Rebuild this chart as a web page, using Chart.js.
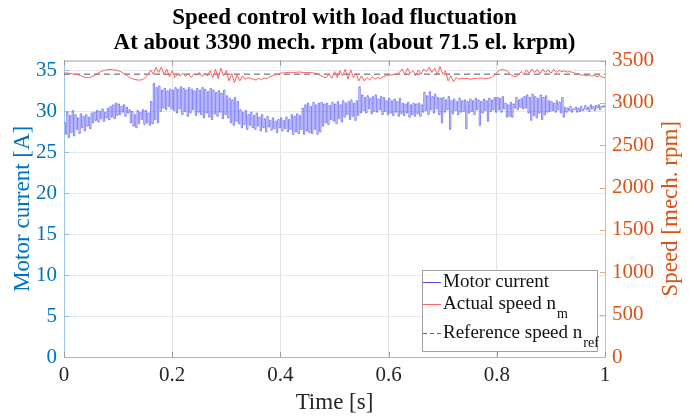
<!DOCTYPE html>
<html>
<head>
<meta charset="utf-8">
<title>Speed control with load fluctuation</title>
<script src="https://cdn.jsdelivr.net/npm/chart.js@4"></script>
<style>
  body { margin: 0; background: #fff; }
  #wrap { width: 689px; height: 418px; }
</style>
</head>
<body>
<div id="wrap"><canvas id="speed-graph" width="689" height="418"></canvas></div>
<script>
// current logged every 2.5 ms, speed every 5 ms, 0 to 1 s
var currentStep = 0.0025;
var speedStep = 0.005;

// motor current [A]
var current = [
  28.6, 27.2, 29.9, 26.8, 29.5, 27.4, 30.1, 27.0, 29.6, 27.8, 29.2, 27.3, 29.7, 28.0, 29.4, 27.6, 29.6, 28.2, 29.3, 27.9,
  29.8, 28.6, 29.9, 28.9, 30.1, 28.7, 30.0, 29.1, 30.3, 28.8, 29.9, 29.2, 30.4, 29.0, 30.6, 29.3, 30.8, 29.1, 31.0, 29.5,
  30.9, 29.6, 30.6, 29.9, 30.8, 29.4, 30.5, 29.8, 30.2, 28.6, 30.0, 28.2, 29.6, 28.0, 30.1, 28.5, 29.9, 29.0, 30.2, 28.4,
  30.1, 28.6, 29.8, 28.3, 31.2, 28.5, 33.4, 29.0, 32.9, 28.6, 33.1, 30.0, 32.6, 30.4, 32.8, 30.2, 32.5, 30.6, 32.7, 30.3,
  32.6, 30.1, 32.9, 29.8, 32.7, 30.3, 33.0, 29.6, 32.8, 30.0, 32.6, 29.4, 32.9, 29.8, 32.7, 30.2, 32.5, 29.5, 32.8, 29.9,
  32.6, 29.6, 32.9, 29.2, 32.7, 29.8, 32.4, 29.3, 32.8, 29.0, 32.6, 29.7, 32.3, 29.4, 32.5, 29.9, 32.2, 29.1, 32.6, 29.6,
  31.9, 29.2, 31.6, 28.6, 31.4, 28.3, 31.7, 28.8, 31.2, 28.5, 30.2, 28.0, 29.9, 28.4, 30.1, 27.8, 29.6, 28.3, 29.9, 28.0,
  29.5, 27.8, 29.8, 28.2, 29.3, 27.6, 29.6, 28.0, 29.1, 27.5, 29.4, 28.1, 28.9, 27.7, 29.2, 27.9, 28.8, 27.4, 29.0, 28.0,
  29.2, 27.6, 28.9, 27.9, 29.3, 27.5, 29.0, 27.8, 29.6, 27.2, 29.4, 27.5, 29.7, 27.3, 29.5, 27.8, 30.4, 27.2, 30.8, 27.6,
  31.0, 27.4, 30.6, 27.3, 31.1, 27.8, 30.8, 27.2, 31.0, 27.5, 31.1, 28.2, 30.9, 28.6, 31.0, 28.4, 30.7, 29.0, 31.1, 28.8,
  30.9, 28.5, 31.2, 29.1, 30.8, 28.7, 31.3, 29.3, 31.0, 29.6, 31.2, 29.0, 31.4, 29.4, 31.0, 28.9, 31.3, 29.5, 33.0, 29.8,
  32.0, 30.1, 31.7, 29.8, 31.9, 30.3, 31.6, 29.7, 31.8, 30.0, 32.0, 29.9, 31.5, 30.2, 31.8, 29.6, 31.7, 30.0, 31.3, 29.6,
  31.6, 29.8, 31.3, 29.5, 31.5, 29.9, 31.2, 29.4, 31.6, 29.7, 31.0, 29.5, 30.9, 29.8, 31.1, 29.3, 30.8, 29.6, 31.0, 29.4,
  30.9, 29.7, 31.0, 29.4, 30.8, 29.9, 32.3, 30.1, 31.9, 29.6, 32.4, 30.2, 31.8, 29.8, 32.1, 30.3, 31.7, 29.6, 31.6, 28.6,
  31.7, 29.9, 31.4, 30.2, 31.8, 27.8, 31.3, 29.7, 31.5, 30.1, 31.2, 29.6, 31.6, 29.9, 31.3, 30.0, 31.4, 27.9, 31.2, 29.8,
  31.5, 30.0, 31.3, 29.6, 31.6, 30.2, 31.4, 28.3, 31.2, 29.8, 31.5, 30.1, 31.3, 28.8, 31.6, 30.0, 31.4, 30.2, 31.7, 29.9,
  31.7, 30.2, 31.6, 29.9, 31.8, 30.3, 31.0, 29.3, 30.8, 29.4, 31.1, 29.3, 30.9, 30.4, 31.7, 30.2, 31.4, 30.5, 31.6, 30.3,
  31.8, 30.4, 32.0, 29.8, 31.7, 28.9, 32.1, 29.5, 31.8, 29.2, 31.6, 29.8, 32.0, 29.0, 31.7, 29.6, 31.9, 29.9, 31.3, 30.0,
  31.2, 30.1, 31.0, 29.9, 31.3, 30.2, 31.1, 29.8, 31.7, 29.3, 30.5, 29.9, 30.4, 30.1, 30.6, 29.9, 30.3, 30.2, 30.5, 29.9,
  30.4, 30.0, 30.6, 30.1, 30.3, 30.7, 30.2, 30.5, 30.0, 30.8, 30.3, 30.6, 30.1, 30.7, 30.4, 30.8, 30.2, 30.6, 30.5, 30.7,
  30.4
];

// actual speed n_m [mech. rpm]
var speed = [
  3350, 3355, 3350, 3345, 3340, 3335, 3325, 3310, 3300, 3298,
  3305, 3320, 3340, 3360, 3375, 3385, 3392, 3395, 3392, 3388,
  3380, 3370, 3350, 3330, 3305, 3290, 3278, 3272, 3270, 3275,
  3300, 3330, 3390, 3340, 3420, 3360, 3425, 3330, 3400, 3310,
  3380, 3300, 3340, 3320, 3350, 3310, 3345, 3300, 3340, 3330,
  3360, 3310, 3350, 3320, 3380, 3300, 3400, 3290, 3410, 3320,
  3380, 3260, 3350, 3240, 3330, 3260, 3320, 3280, 3300, 3290,
  3280, 3270, 3290, 3275, 3295, 3285, 3310, 3320, 3335, 3340,
  3350, 3355, 3358, 3360, 3362, 3360, 3362, 3365, 3362, 3360,
  3360, 3358, 3355, 3350, 3340, 3320, 3305, 3300, 3340, 3290,
  3370, 3300, 3380, 3320, 3400, 3280, 3390, 3300, 3350, 3260,
  3320, 3260, 3300, 3270, 3310, 3280, 3300, 3290, 3310, 3320,
  3330, 3330, 3335, 3340, 3360, 3400, 3330, 3410, 3350, 3380,
  3320, 3390, 3340, 3400, 3370, 3420, 3360, 3410, 3330, 3430,
  3340, 3380, 3260, 3320, 3250, 3300, 3280, 3290, 3285, 3290,
  3280, 3285, 3290, 3290, 3295, 3290, 3285, 3290, 3300, 3320,
  3360, 3385, 3395, 3390, 3370, 3340, 3315, 3310, 3330, 3370,
  3340, 3390, 3350, 3400, 3360, 3395, 3350, 3400, 3360, 3390,
  3350, 3395, 3360, 3385, 3370, 3380, 3365, 3370, 3360, 3350,
  3345, 3330, 3330, 3320, 3330, 3315, 3325, 3310, 3320, 3305,
  3300
];

// reference speed n_ref [mech. rpm]
var refSpeed = 3340;

var timeTicks = [0, 0.2, 0.4, 0.6, 0.8, 1];
var legendItems = [
  ['Motor current', ''],
  ['Actual speed n', 'm'],
  ['Reference speed n', 'ref']
];
var rightTitle = 'Speed [mech. rpm]';

var blue = 'rgb(80,80,242)';
var red = 'rgb(255,95,95)';
var leftColor = '#0072BD';
var rightColor = '#D95319';
var serif = "'Liberation Serif', 'Times New Roman', serif";

var currentPts = current.map(function (v, i) { return { x: i * currentStep, y: v }; });
var speedPts = speed.map(function (v, i) { return { x: i * speedStep, y: v }; });
var refPts = [{ x: 0, y: refSpeed }, { x: 1, y: refSpeed }];

// box frame, inward tick marks, right axis title and the legend with subscripts
var framePlugin = {
  id: 'frameAndLegend',
  afterDraw: function (chart) {
    var ctx = chart.ctx;
    var a = chart.chartArea;
    var sx = chart.scales.x, sl = chart.scales.yLeft, sr = chart.scales.yRight;
    ctx.save();
    ctx.lineWidth = 1;

    ctx.strokeStyle = '#a0a0a0';
    ctx.beginPath();
    ctx.moveTo(a.left, a.top + 0.5);
    ctx.lineTo(a.right, a.top + 0.5);
    ctx.stroke();

    ctx.strokeStyle = '#9a9a9a';
    ctx.beginPath();
    timeTicks.forEach(function (t) {
      var px = Math.round(sx.getPixelForValue(t)) + 0.5;
      ctx.moveTo(px, a.bottom);
      ctx.lineTo(px, a.bottom - 5);
      ctx.moveTo(px, a.top);
      ctx.lineTo(px, a.top + 5);
    });
    ctx.stroke();

    ctx.strokeStyle = '#8dbbe0';
    ctx.beginPath();
    sl.ticks.forEach(function (t) {
      var py = Math.round(sl.getPixelForValue(t.value)) + 0.5;
      ctx.moveTo(a.left, py);
      ctx.lineTo(a.left + 5, py);
    });
    ctx.stroke();

    ctx.strokeStyle = '#eda584';
    ctx.beginPath();
    sr.ticks.forEach(function (t) {
      var py = Math.round(sr.getPixelForValue(t.value)) + 0.5;
      ctx.moveTo(a.right, py);
      ctx.lineTo(a.right - 5, py);
    });
    ctx.stroke();

    // right axis title, reading bottom to top
    ctx.save();
    ctx.translate(671, (a.top + a.bottom) / 2);
    ctx.rotate(-Math.PI / 2);
    ctx.fillStyle = rightColor;
    ctx.font = '23px ' + serif;
    ctx.textAlign = 'center';
    ctx.textBaseline = 'middle';
    ctx.fillText(rightTitle, 0, 0);
    ctx.restore();

    // legend
    var bw = 175, bh = 81;
    var bx = a.right - 8 - bw, by = a.bottom - 6 - bh;
    ctx.fillStyle = '#fff';
    ctx.fillRect(bx, by, bw, bh);
    ctx.strokeStyle = '#a0a0a0';
    ctx.strokeRect(bx + 0.5, by + 0.5, bw, bh);

    var rows = [12, 34, 63];
    var styles = [[blue, []], [red, []], ['#666', [4, 3]]];
    ctx.textBaseline = 'middle';
    ctx.textAlign = 'left';
    legendItems.forEach(function (item, i) {
      var y = by + rows[i];
      ctx.strokeStyle = styles[i][0];
      ctx.setLineDash(styles[i][1]);
      ctx.beginPath();
      ctx.moveTo(bx + 1, Math.round(y) + 0.5);
      ctx.lineTo(bx + 19, Math.round(y) + 0.5);
      ctx.stroke();
      ctx.setLineDash([]);
      ctx.fillStyle = '#111';
      ctx.font = '19px ' + serif;
      ctx.fillText(item[0], bx + 21, y);
      if (item[1]) {
        var w = ctx.measureText(item[0]).width;
        ctx.font = '14px ' + serif;
        ctx.fillText(item[1], bx + 22 + w, y + 10);
      }
    });
    ctx.restore();
  }
};

new Chart(document.getElementById('speed-graph'), {
  type: 'line',
  data: {
    datasets: [{
      label: 'Motor current',
      data: currentPts,
      yAxisID: 'yLeft',
      borderColor: blue,
      borderWidth: 0.7,
      stepped: true,
      pointRadius: 0,
      fill: false
    }, {
      label: 'Actual speed n_m',
      data: speedPts,
      yAxisID: 'yRight',
      borderColor: red,
      borderWidth: 1,
      pointRadius: 0,
      fill: false
    }, {
      label: 'Reference speed n_ref',
      data: refPts,
      yAxisID: 'yRight',
      borderColor: '#555',
      borderWidth: 1,
      borderDash: [6, 4],
      pointRadius: 0,
      fill: false
    }]
  },
  options: {
    responsive: false,
    animation: false,
    layout: { padding: 0 },
    plugins: {
      legend: { display: false },
      tooltip: { enabled: false },
      title: {
        display: true,
        text: ['Speed control with load fluctuation', 'At about 3390 mech. rpm (about 71.5 el. krpm)'],
        color: '#000',
        font: { family: serif, size: 23, weight: 'bold', lineHeight: 1.1 },
        padding: { top: 5, bottom: 5 }
      }
    },
    scales: {
      x: {
        type: 'linear',
        min: 0,
        max: 1,
        afterBuildTicks: function (s) { s.ticks = timeTicks.map(function (v) { return { value: v }; }); },
        afterFit: function (s) { s.height = 61; },
        ticks: {
          color: '#262626',
          font: { family: serif, size: 21 },
          padding: 6,
          maxRotation: 0,
          callback: function (v) { return String(v); }
        },
        grid: { color: '#e2e2e2', drawTicks: false },
        border: { color: '#b4b4b4' },
        title: {
          display: true,
          text: 'Time [s]',
          color: '#262626',
          font: { family: serif, size: 23 },
          padding: { top: 0, bottom: 1 }
        }
      },
      yLeft: {
        position: 'left',
        min: 0,
        max: 36.2,
        afterFit: function (s) { s.width = 64; },
        ticks: {
          stepSize: 5,
          includeBounds: false,
          color: leftColor,
          font: { family: serif, size: 21 },
          padding: 7
        },
        grid: { color: '#e4e9ee', drawTicks: false },
        border: { color: '#9cc6e6' },
        title: {
          display: true,
          text: 'Motor current [A]',
          color: leftColor,
          font: { family: serif, size: 23 },
          padding: { top: 9, bottom: 0 }
        }
      },
      yRight: {
        position: 'right',
        min: 0,
        max: 3500,
        afterFit: function (s) { s.width = 84; },
        ticks: {
          stepSize: 500,
          color: rightColor,
          font: { family: serif, size: 21 },
          padding: 7,
          callback: function (v) { return String(v); }
        },
        grid: { drawOnChartArea: false, drawTicks: false },
        border: { color: '#f0b49a' }
      }
    }
  },
  plugins: [framePlugin]
});
</script>
</body>
</html>
